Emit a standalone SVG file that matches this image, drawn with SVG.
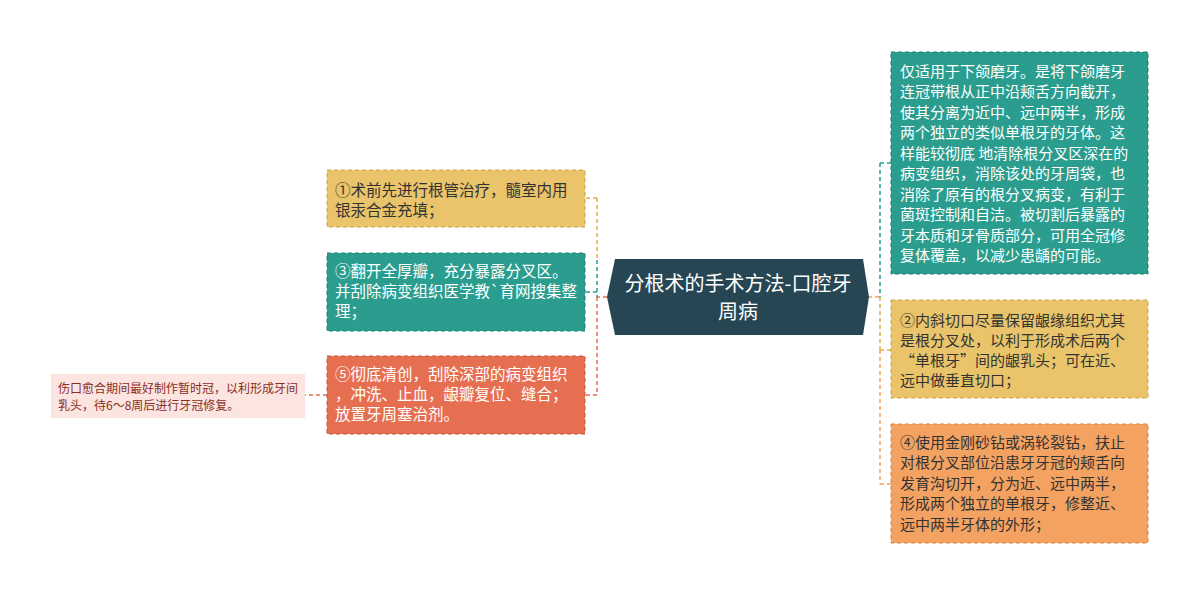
<svg xmlns="http://www.w3.org/2000/svg" width="1200" height="595" viewBox="0 0 1200 595">
<style>
text{font-family:"Noto Sans CJK SC","Noto Sans",sans-serif;font-size:15px}
.l{font-size:15.5px}
.w{fill:#ffffff}
.d{fill:#333333}
.box{stroke-width:1;stroke-dasharray:4,3}
.c{fill:none;stroke-width:1.5;stroke-dasharray:4,3}
</style>
<rect width="1200" height="595" fill="#ffffff"/>
<g id="connectors">
<line class="c" x1="607" y1="297" x2="597" y2="297" stroke="#E76F51" stroke-dasharray="none"/>
<line class="c" x1="597" y1="198" x2="597" y2="260" stroke="#E0B04F"/>
<line class="c" x1="597" y1="260" x2="597" y2="297" stroke="#2A9D8F"/>
<line class="c" x1="597" y1="297" x2="597" y2="395" stroke="#E76F51"/>
<line class="c" x1="597" y1="198" x2="585" y2="198" stroke="#E0B04F"/>
<line class="c" x1="597" y1="292" x2="585" y2="292" stroke="#2A9D8F"/>
<line class="c" x1="597" y1="395" x2="585" y2="395" stroke="#E76F51"/>
<line class="c" x1="327" y1="395" x2="305" y2="395" stroke="#E76F51"/>
<line class="c" x1="868" y1="297" x2="880" y2="297" stroke="#F4A261" stroke-dasharray="none"/>
<line class="c" x1="880" y1="163" x2="880" y2="297" stroke="#2A9D8F"/>
<line class="c" x1="880" y1="297" x2="880" y2="350" stroke="#E0B04F"/>
<line class="c" x1="880" y1="350" x2="880" y2="484" stroke="#F4A261"/>
<line class="c" x1="880" y1="163" x2="891" y2="163" stroke="#2A9D8F"/>
<line class="c" x1="880" y1="350" x2="891" y2="350" stroke="#E0B04F"/>
<line class="c" x1="880" y1="484" x2="891" y2="484" stroke="#F4A261"/>
</g>
<g id="center">
<polygon points="615,259 863,259 869,297 863,335 615,335 607,297" fill="#264653"/>
<text class="w" x="738" y="291" text-anchor="middle" style="font-size:20px">分根术的手术方法-口腔牙</text>
<text class="w" x="738" y="319" text-anchor="middle" style="font-size:20px">周病</text>
</g>
<g id="left1">
<rect class="box" x="327" y="170" width="258" height="57" fill="#E9C46A" stroke="#C9A44A"/>
<text class="d l" x="335" y="195.5">①术前先进行根管治疗，髓室内用</text>
<text class="d l" x="335" y="215.5">银汞合金充填；</text>
</g>
<g id="left2">
<rect class="box" x="327" y="253" width="258" height="78" fill="#2A9D8F" stroke="#1F7F73"/>
<text class="w l" x="335" y="277">③翻开全厚瓣，充分暴露分叉区。</text>
<text class="w l" x="335" y="297">并刮除病变组织医学教`育网搜集整</text>
<text class="w l" x="335" y="317">理；</text>
</g>
<g id="left3">
<rect class="box" x="327" y="356" width="258" height="78" fill="#E76F51" stroke="#C5553A"/>
<text class="w l" x="335" y="380">⑤彻底清创，刮除深部的病变组织</text>
<text class="w l" x="335" y="400">，冲洗、止血，龈瓣复位、缝合；</text>
<text class="w l" x="335" y="420">放置牙周塞治剂。</text>
</g>
<g id="leaf">
<rect x="51" y="374" width="254" height="44" fill="#FCE5E0"/>
<text x="58" y="392.5" style="font-size:12px;fill:#8B2E1E">伤口愈合期间最好制作暂时冠，以利形成牙间</text>
<text x="58" y="409.5" style="font-size:12px;fill:#8B2E1E">乳头，待6～8周后进行牙冠修复。</text>
</g>
<g id="right1">
<rect class="box" x="891" y="52" width="257" height="222" fill="#2A9D8F" stroke="#1F7F73"/>
<text class="w" x="900" y="76.5">仅适用于下颌磨牙。是将下颌磨牙</text>
<text class="w" x="900" y="97">连冠带根从正中沿颊舌方向截开，</text>
<text class="w" x="900" y="117.5">使其分离为近中、远中两半，形成</text>
<text class="w" x="900" y="138">两个独立的类似单根牙的牙体。这</text>
<text class="w" x="900" y="158.5">样能较彻底 地清除根分叉区深在的</text>
<text class="w" x="900" y="179">病变组织，消除该处的牙周袋，也</text>
<text class="w" x="900" y="199.5">消除了原有的根分叉病变，有利于</text>
<text class="w" x="900" y="220">菌斑控制和自洁。被切割后暴露的</text>
<text class="w" x="900" y="240.5">牙本质和牙骨质部分，可用全冠修</text>
<text class="w" x="900" y="261">复体覆盖，以减少患龋的可能。</text>
</g>
<g id="right2">
<rect class="box" x="891" y="300" width="257" height="98" fill="#E9C46A" stroke="#C9A44A"/>
<text class="d" x="900" y="325.5">②内斜切口尽量保留龈缘组织尤其</text>
<text class="d" x="900" y="345.5">是根分叉处，以利于形成术后两个</text>
<text class="d" x="900" y="365.5">“单根牙”间的龈乳头；可在近、</text>
<text class="d" x="900" y="385.5">远中做垂直切口；</text>
</g>
<g id="right3">
<rect class="box" x="891" y="424" width="257" height="119" fill="#F4A261" stroke="#D48441"/>
<text class="d" x="900" y="447.5">④使用金刚砂钻或涡轮裂钻，扶止</text>
<text class="d" x="900" y="468">对根分叉部位沿患牙牙冠的颊舌向</text>
<text class="d" x="900" y="488.5">发育沟切开，分为近、远中两半，</text>
<text class="d" x="900" y="509">形成两个独立的单根牙，修整近、</text>
<text class="d" x="900" y="529.5">远中两半牙体的外形；</text>
</g>
</svg>
